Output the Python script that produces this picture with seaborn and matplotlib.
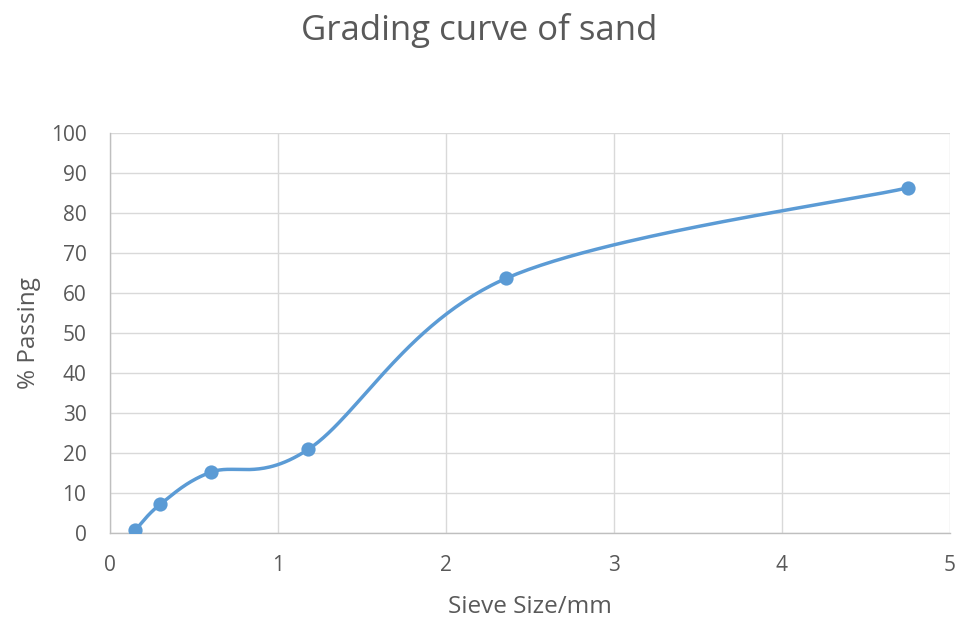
import numpy as np
import pandas as pd
import matplotlib
matplotlib.use("Agg")
import matplotlib.pyplot as plt
import seaborn as sns

# Sieve analysis results
sieve_size_mm = [0.15, 0.3, 0.6, 1.18, 2.36, 4.75]
percent_passing = [0.7, 7.2, 15.2, 20.9, 63.7, 86.3]

x_ticks = [0, 1, 2, 3, 4, 5]
y_ticks = list(range(0, 101, 10))

title = "Grading curve of sand"
x_label = "Sieve Size/mm"
y_label = "% Passing"

line_color = "#5B9BD5"
text_color = "#595959"
grid_color = "#D9D9D9"

sns.set_theme(style="white")
plt.rcParams["font.family"] = ["Open Sans", "DejaVu Sans"]

fig = plt.figure(figsize=(9.59, 6.21), dpi=100)
ax = fig.add_axes([110 / 959, 1 - 533 / 621, 840 / 959, 400 / 621])
ax.set_xlim(0, 5)
ax.set_ylim(0, 100)


def smooth_curve(ax, xs, ys, n=60):
    """Catmull-Rom style Bezier smoothing computed in screen space."""
    pts = ax.transData.transform(np.column_stack([xs, ys]))
    padded = np.vstack([pts[0], pts, pts[-1]])
    out = []
    for i in range(len(pts) - 1):
        p0, p1, p2, p3 = padded[i], padded[i + 1], padded[i + 2], padded[i + 3]
        c1 = p1 + (p2 - p0) / 6.0
        c2 = p2 - (p3 - p1) / 6.0
        t = np.linspace(0, 1, n)[:, None]
        seg = ((1 - t) ** 3) * p1 + 3 * ((1 - t) ** 2) * t * c1 \
            + 3 * (1 - t) * t ** 2 * c2 + t ** 3 * p2
        out.append(seg if i == 0 else seg[1:])
    curve = np.vstack(out)
    return ax.transData.inverted().transform(curve)


curve = smooth_curve(ax, sieve_size_mm, percent_passing)
curve_df = pd.DataFrame({"x": curve[:, 0], "y": curve[:, 1]})
points_df = pd.DataFrame({"size": sieve_size_mm, "passing": percent_passing})

sns.lineplot(data=curve_df, x="x", y="y", sort=False, estimator=None,
             color=line_color, linewidth=2.5, ax=ax, zorder=3)
sns.scatterplot(data=points_df, x="size", y="passing", color=line_color,
                s=105, edgecolor=line_color, linewidth=0, ax=ax, zorder=4)

ax.set_xticks(x_ticks)
ax.set_yticks(y_ticks)
ax.set_xlim(0, 5)
ax.set_ylim(0, 100)
ax.grid(True, color=grid_color, linewidth=1.0)
ax.set_axisbelow(True)

for side in ["top", "right"]:
    ax.spines[side].set_visible(False)
for side in ["left", "bottom"]:
    ax.spines[side].set_color("#BFBFBF")
    ax.spines[side].set_linewidth(1.0)

ax.tick_params(axis="both", labelsize=15, colors=text_color, length=0)
ax.tick_params(axis="x", pad=16)
ax.tick_params(axis="y", pad=17)

ax.set_xlabel(x_label, fontsize=17.5, color=text_color)
ax.set_ylabel(y_label, fontsize=17.5, color=text_color)
ax.xaxis.label.set_va("center")
ax.yaxis.label.set_va("center")
ax.xaxis.set_label_coords(0.5, (533 - 607) / 400)
ax.yaxis.set_label_coords((29 - 110) / 840, 0.5)
fig.text(479 / 959, 1 - 30 / 621, title, ha="center", va="center",
         fontsize=25, color=text_color)

fig.savefig("out.png", dpi=100, facecolor="white")
